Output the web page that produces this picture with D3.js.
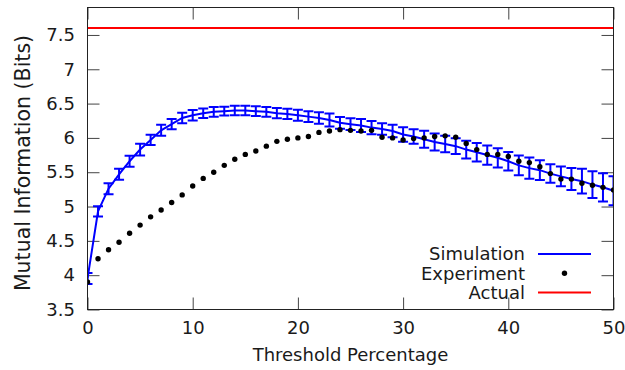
<!DOCTYPE html>
<html><head><meta charset="utf-8">
<script src="https://cdn.jsdelivr.net/npm/d3@7"></script>
<style>body{margin:0;background:#fff}svg{display:block}text{font-family:"DejaVu Sans",sans-serif}</style>
</head><body><svg id="c" width="625" height="370"></svg>
<script>
const thresholds = d3.range(0, 51);
const simMean = [3.95,4.93,5.26,5.47,5.66,5.83,5.97,6.11,6.20,6.29,6.33,6.36,6.38,6.39,6.40,6.40,6.39,6.38,6.36,6.35,6.33,6.31,6.29,6.26,6.22,6.20,6.18,6.15,6.13,6.10,6.05,6.02,5.98,5.94,5.91,5.88,5.83,5.79,5.75,5.71,5.66,5.60,5.56,5.53,5.48,5.44,5.40,5.37,5.32,5.28,5.23];
const simErr = [0.08,0.075,0.08,0.08,0.08,0.085,0.075,0.08,0.075,0.075,0.075,0.07,0.07,0.065,0.07,0.07,0.07,0.07,0.075,0.075,0.08,0.08,0.085,0.095,0.085,0.085,0.095,0.095,0.085,0.09,0.105,0.105,0.125,0.125,0.12,0.115,0.13,0.135,0.14,0.14,0.135,0.145,0.155,0.145,0.135,0.145,0.16,0.18,0.195,0.205,0.21];
const experiment = [3.90,4.24,4.37,4.48,4.61,4.73,4.85,4.95,5.06,5.17,5.30,5.41,5.50,5.60,5.69,5.76,5.81,5.88,5.95,5.98,6.00,6.02,6.08,6.10,6.12,6.11,6.10,6.11,6.01,6.00,5.97,5.99,6.00,6.02,6.03,6.01,5.92,5.83,5.76,5.76,5.73,5.66,5.64,5.58,5.48,5.40,5.40,5.34,5.31,5.28,5.24];
const actualValue = 7.6;
const xTicks = [0,10,20,30,40,50];
const yTicks = [3.5,4,4.5,5,5.5,6,6.5,7,7.5];
const legendLabels = ["Simulation","Experiment","Actual"];
const xTitle = "Threshold Percentage";
const yTitle = "Mutual Information (Bits)";

const L = 87.5, R = 613.5, T = 7.5, B = 309.5;
const svg = d3.select("#c");
const x = d3.scaleLinear().domain([0, 50]).range([L, R]);
const y = d3.scaleLinear().domain([3.5, 7.9]).range([B, T]);
const fs = 18;
const fmt = d => String(d);

svg.append("defs").append("clipPath").attr("id","clip").append("rect")
  .attr("x", L).attr("y", T).attr("width", R-L).attr("height", B-T);

function styleAxis(g, lbl){
  g.select(".domain").remove();
  g.selectAll(".tick line").attr("stroke","#444").attr("stroke-width",1);
  g.selectAll(".tick text").attr("font-size",fs).attr("fill","#1a1a1a").style("display", lbl?null:"none");
}
svg.append("g").attr("transform",`translate(0,${B})`)
  .call(d3.axisBottom(x).tickValues(xTicks).tickFormat(fmt).tickSize(-12).tickPadding(12))
  .call(g=>styleAxis(g,true));
svg.append("g").attr("transform",`translate(0,${T})`)
  .call(d3.axisTop(x).tickValues(xTicks).tickFormat(fmt).tickSize(-12))
  .call(g=>styleAxis(g,false));
svg.append("g").attr("transform",`translate(${L},0)`)
  .call(d3.axisLeft(y).tickValues(yTicks).tickFormat(fmt).tickSize(-12).tickPadding(12.5))
  .call(g=>styleAxis(g,true));
svg.append("g").attr("transform",`translate(${R},0)`)
  .call(d3.axisRight(y).tickValues(yTicks).tickFormat(fmt).tickSize(-12))
  .call(g=>styleAxis(g,false));

const plot = svg.append("g").attr("clip-path","url(#clip)");
const sim = thresholds.map((t,i)=>({t, m:simMean[i], e:simErr[i]}));
plot.append("path").datum(sim)
  .attr("fill","none").attr("stroke","#0000ff").attr("stroke-width",2)
  .attr("d", d3.line().x(d=>x(d.t)).y(d=>y(d.m)));
const eb = plot.append("g").attr("stroke","#0000ff").attr("stroke-width",2);
sim.forEach(d=>{
  const cx = x(d.t), y1 = y(d.m + d.e), y2 = y(d.m - d.e);
  eb.append("line").attr("x1",cx).attr("x2",cx).attr("y1",y1).attr("y2",y2);
  eb.append("line").attr("x1",cx-5).attr("x2",cx+5).attr("y1",y1).attr("y2",y1);
  eb.append("line").attr("x1",cx-5).attr("x2",cx+5).attr("y1",y2).attr("y2",y2);
});
plot.append("g").selectAll("circle").data(thresholds).join("circle")
  .attr("cx", t=>x(t)).attr("cy",(t,i)=>y(experiment[i])).attr("r",2.7).attr("fill","#000");
plot.append("line").attr("x1",x(0)).attr("x2",x(50)).attr("y1",y(actualValue)).attr("y2",y(actualValue))
  .attr("stroke","#ff0000").attr("stroke-width",2);

// frame
svg.append("rect").attr("x",L).attr("y",T).attr("width",R-L).attr("height",B-T)
  .attr("fill","none").attr("stroke","#222").attr("stroke-width",1);

// titles
svg.append("text").attr("x",(L+R)/2).attr("y",361).attr("text-anchor","middle")
  .attr("font-size",fs).attr("fill","#1a1a1a").text(xTitle);
svg.append("text").attr("transform","translate(30,163) rotate(-90)").attr("text-anchor","middle")
  .attr("font-size",20.5).attr("fill","#1a1a1a").text(yTitle);

// legend
const lg = svg.append("g");
const rowsY = [254, 273.3, 292.5];
legendLabels.forEach((lab,i)=>{
  lg.append("text").attr("x",525).attr("y",rowsY[i]).attr("dy","0.35em").attr("text-anchor","end")
    .attr("font-size",fs).attr("fill","#1a1a1a").text(lab);
});
lg.append("line").attr("x1",538).attr("x2",591).attr("y1",rowsY[0]).attr("y2",rowsY[0]).attr("stroke","#0000ff").attr("stroke-width",2);
lg.append("circle").attr("cx",564.5).attr("cy",rowsY[1]).attr("r",2.7).attr("fill","#000");
lg.append("line").attr("x1",538).attr("x2",591).attr("y1",rowsY[2]).attr("y2",rowsY[2]).attr("stroke","#ff0000").attr("stroke-width",2);
</script></body></html>
